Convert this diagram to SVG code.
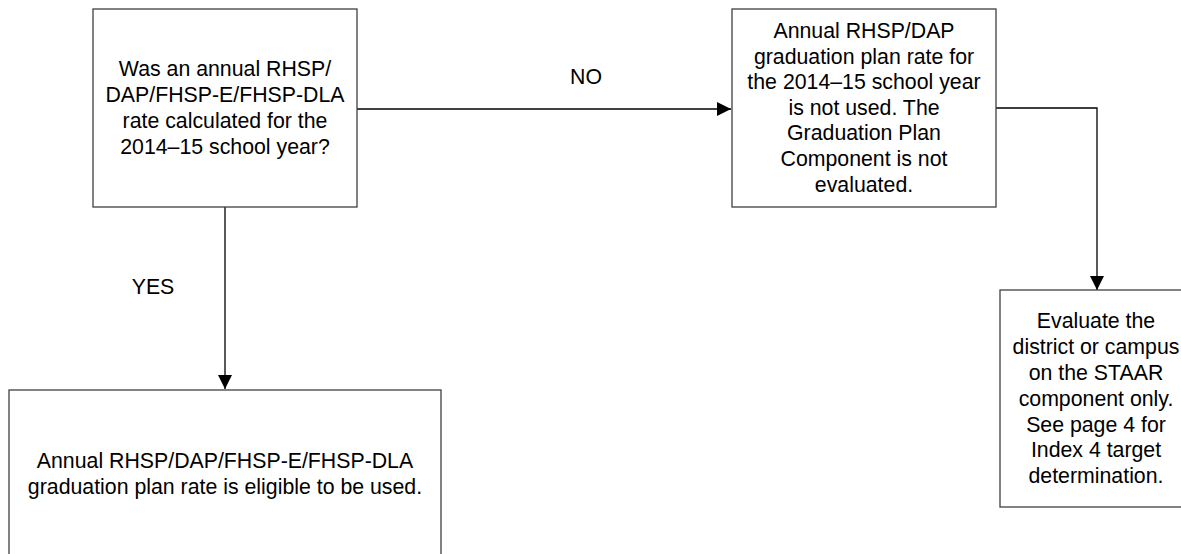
<svg xmlns="http://www.w3.org/2000/svg" width="1181" height="554" viewBox="0 0 1181 554">
<style>
.box{fill:#fff;stroke:#404040;stroke-width:1.3}
.t{font-family:"Liberation Sans",Arial,sans-serif;font-size:21.3px;fill:#000;text-anchor:middle}
.c{fill:none;stroke:#000;stroke-width:1.3}
</style>
<defs>
<marker id="ah" markerWidth="14" markerHeight="14" refX="14" refY="7" orient="auto" markerUnits="userSpaceOnUse">
<path d="M0,0 L14,7 L0,14 Z" fill="#000"/>
</marker>
</defs>
<rect width="1181" height="554" fill="#fff"/>
<g id="connectors">
<path class="c" d="M357,109 L731,109" marker-end="url(#ah)"/>
<path class="c" d="M225,207 L225,389" marker-end="url(#ah)"/>
<path class="c" d="M996,108 L1097,108 L1097,290" marker-end="url(#ah)"/>
<text class="t" x="586" y="84">NO</text>
<text class="t" x="153" y="294">YES</text>
</g>
<g id="n1">
<rect class="box" x="93" y="9" width="264" height="198"/>
<text class="t"><tspan x="225" y="76">Was an annual RHSP/</tspan><tspan x="225" y="102">DAP/FHSP-E/FHSP-DLA</tspan><tspan x="225" y="128">rate calculated for the</tspan><tspan x="225" y="154">2014–15 school year?</tspan></text>
</g>
<g id="n2">
<rect class="box" x="732" y="9" width="264" height="198"/>
<text class="t"><tspan x="864" y="38">Annual RHSP/DAP</tspan><tspan x="864" y="64">graduation plan rate for</tspan><tspan x="864" y="89">the 2014–15 school year</tspan><tspan x="864" y="115">is not used. The</tspan><tspan x="864" y="140">Graduation Plan</tspan><tspan x="864" y="166">Component is not</tspan><tspan x="864" y="192">evaluated.</tspan></text>
</g>
<g id="n3">
<rect class="box" x="1000" y="290" width="192" height="217"/>
<text class="t"><tspan x="1096" y="328">Evaluate the</tspan><tspan x="1096" y="354">district or campus</tspan><tspan x="1096" y="380">on the STAAR</tspan><tspan x="1096" y="406">component only.</tspan><tspan x="1096" y="432">See page 4 for</tspan><tspan x="1096" y="457">Index 4 target</tspan><tspan x="1096" y="483">determination.</tspan></text>
</g>
<g id="n4">
<rect class="box" x="9" y="390" width="432" height="180"/>
<text class="t"><tspan x="225" y="468">Annual RHSP/DAP/FHSP-E/FHSP-DLA</tspan><tspan x="225" y="494">graduation plan rate is eligible to be used.</tspan></text>
</g>
</svg>
